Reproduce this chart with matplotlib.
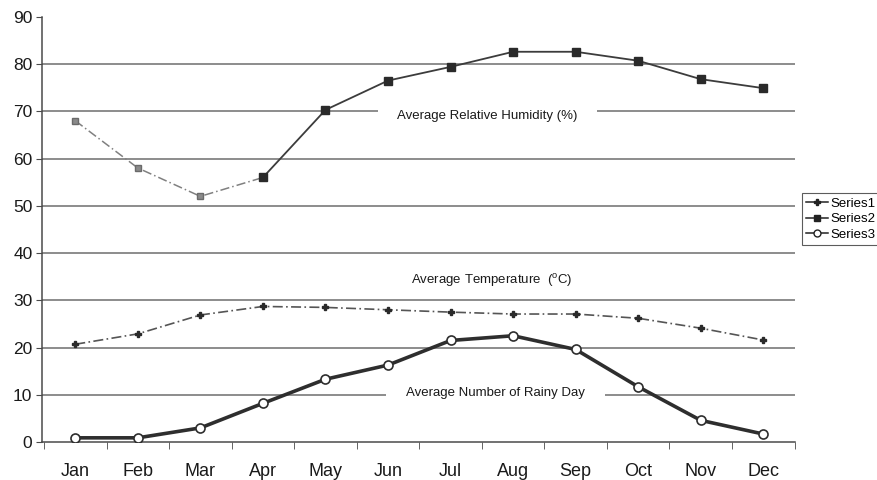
import matplotlib
matplotlib.use("Agg")
import matplotlib.pyplot as plt
from matplotlib.lines import Line2D
import numpy as np

plt.rcParams['font.family'] = ['Liberation Sans', 'DejaVu Sans']
plt.rcParams['mathtext.fontset'] = 'custom'
plt.rcParams['mathtext.rm'] = 'Liberation Sans'
plt.rcParams['mathtext.it'] = 'Liberation Sans'

months = ['Jan', 'Feb', 'Mar', 'Apr', 'May', 'Jun',
          'Jul', 'Aug', 'Sep', 'Oct', 'Nov', 'Dec']
temperature = [20.7, 22.9, 26.9, 28.7, 28.5, 28.0, 27.5, 27.1, 27.1, 26.2, 24.1, 21.6]
humidity = [68, 58, 52, 56, 70.3, 76.5, 79.4, 82.6, 82.6, 80.7, 76.8, 74.9]
rainy_days = [0.9, 0.9, 3.0, 8.2, 13.3, 16.3, 21.5, 22.5, 19.6, 11.7, 4.6, 1.7]
yticks = [0, 10, 20, 30, 40, 50, 60, 70, 80, 90]

fig = plt.figure(figsize=(8.78, 4.8), dpi=100)
ax = fig.add_axes([0.048, 0.079, 0.857, 0.886])

x = np.arange(len(months))
grid_c = '#6e6e6e'
ax.set_xlim(-0.53, 11.47)
ax.set_ylim(0, 90)

for v in yticks[1:-1]:
    ax.axhline(v, color=grid_c, lw=1.1, zorder=1)

# Series1: temperature
ax.plot(x, temperature, color='#555555', lw=1.2, ls=(0, (6, 2, 1, 2)),
        marker='P', ms=5, mfc='#2a2a2a', mec='#2a2a2a', zorder=4)

# Series2: humidity (first months drawn lighter and dashed)
ax.plot(x[:4], humidity[:4], color='#808080', lw=1.1, ls=(0, (6, 2, 1, 2)),
        marker='s', ms=4.5, mfc='#8a8a8a', mec='#6a6a6a', zorder=4)
ax.plot(x[3:], humidity[3:], color='#3c3c3c', lw=1.3,
        marker='s', ms=5.5, mfc='#2a2a2a', mec='#2a2a2a', zorder=4)

# Series3: rainy days
ax.plot(x, rainy_days, color='#2e2e2e', lw=2.6, marker='o', ms=6.5,
        mfc='white', mec='#2e2e2e', mew=1.2, zorder=5)

box = dict(facecolor='white', edgecolor='none', boxstyle='square,pad=1.5')
txt = dict(fontsize=9.5, color='#1a1a1a', ha='center', va='center', zorder=3)
ax.text(6.59, 69.1, 'Average Relative Humidity (%)', bbox=box, **txt)
ax.text(6.72, 10.4, 'Average Number of Rainy Day', bbox=box, **txt)
ax.text(6.65, 34.1, r'Average Temperature  ($^{\rm o}$C)', **txt)

for s in ['top', 'right']:
    ax.spines[s].set_visible(False)
for s in ['left', 'bottom']:
    ax.spines[s].set_color('#4a4a4a')
    ax.spines[s].set_linewidth(1.1)

ax.set_yticks(yticks)
ax.set_yticklabels([str(v) for v in yticks], fontsize=12.5, color='#1a1a1a')
ax.tick_params(axis='y', length=4, color='#4a4a4a', pad=3)

ax.set_xticks(x)
ax.set_xticklabels(months, fontsize=13, color='#1a1a1a')
ax.tick_params(axis='x', which='major', length=0, pad=15)
ax.set_xticks(np.arange(-0.5, 12.0, 1.0), minor=True)
ax.tick_params(axis='x', which='minor', length=5, color='#4a4a4a', direction='out')

handles = [
    Line2D([], [], color='#222222', lw=1.1, marker='P', ms=4.5, mfc='#222222'),
    Line2D([], [], color='#222222', lw=1.1, marker='s', ms=5, mfc='#222222'),
    Line2D([], [], color='#222222', lw=1.1, marker='o', ms=5, mfc='white'),
]
leg = fig.legend(handles, ['Series1', 'Series2', 'Series3'], loc='upper left',
                 bbox_to_anchor=(0.913, 0.597), fontsize=9.5, frameon=True,
                 fancybox=False, edgecolor='#333333', handlelength=1.7,
                 handletextpad=0.2, borderpad=0.3, labelspacing=0.25,
                 borderaxespad=0)
leg.get_frame().set_linewidth(0.8)

fig.savefig('out.png', dpi=100)
